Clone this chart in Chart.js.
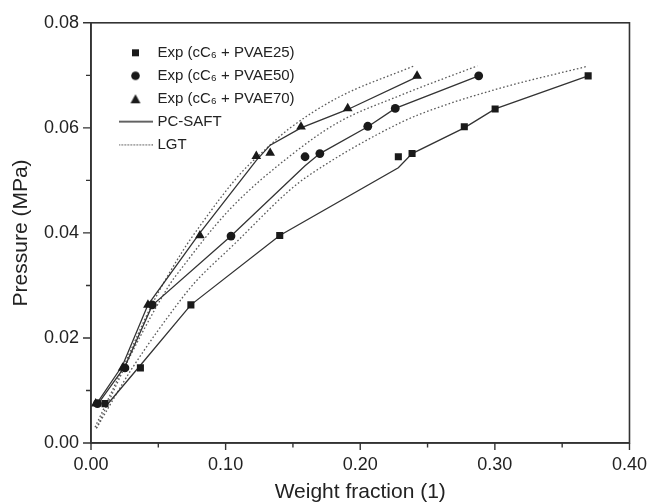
<!DOCTYPE html>
<html><head><meta charset="utf-8">
<script src="https://cdn.jsdelivr.net/npm/chart.js@4/dist/chart.umd.min.js"></script>
<style>html,body{margin:0;padding:0;background:#fff}#wrap{width:658px;height:502px}</style>
</head><body><div id="wrap"><canvas id="c" width="658" height="502"></canvas></div>
<script>
// ---- data ----
const xTickLabels = ['0.00','0.10','0.20','0.30','0.40'];
const yTickLabels = ['0.00','0.02','0.04','0.06','0.08'];

const expX25 = [0.0104,0.0367,0.0742,0.1402,0.2283,0.2385,0.2773,0.3002,0.3693];
const expY25 = [0.0075,0.0143,0.0263,0.0395,0.0545,0.0551,0.0602,0.0636,0.0699];
const expX50 = [0.0048,0.0252,0.0455,0.1040,0.1590,0.1700,0.2056,0.2260,0.2880];
const expY50 = [0.0075,0.0143,0.0263,0.0394,0.0545,0.0551,0.0603,0.0637,0.0699];
const expX70 = [0.0035,0.0235,0.0423,0.0809,0.1228,0.1331,0.1560,0.1907,0.2422];
const expY70 = [0.0075,0.0143,0.0263,0.0395,0.0546,0.0552,0.0602,0.0637,0.0699];

const pcX25 = [0.0104,0.0367,0.0742,0.1402,0.2283,0.2385,0.2773,0.3002,0.3693];
const pcY25 = [0.0068,0.0148,0.0263,0.0395,0.0524,0.0551,0.0600,0.0636,0.0699];
const pcX50 = [0.0048,0.0252,0.0455,0.1040,0.1590,0.1700,0.2056,0.2260,0.2880];
const pcY50 = [0.0073,0.0146,0.0262,0.0394,0.0528,0.0551,0.0602,0.0637,0.0699];
const pcX70 = [0.0035,0.0235,0.0423,0.0809,0.1228,0.1331,0.1560,0.1907,0.2422];
const pcY70 = [0.0072,0.0148,0.0263,0.0400,0.0538,0.0567,0.0600,0.0635,0.0697];

const lgtX25 = [0.004,0.030,0.068,0.078,0.107,0.147,0.161,0.230,0.257,0.306,0.3685];
const lgtY25 = [0.0028,0.0140,0.0277,0.0308,0.0380,0.0480,0.0508,0.0610,0.0638,0.0677,0.0717];
const lgtX50 = [0.004,0.030,0.058,0.0656,0.1024,0.1466,0.1834,0.230,0.287];
const lgtY50 = [0.0028,0.0170,0.0300,0.0327,0.0443,0.0544,0.0610,0.0662,0.0718];
const lgtX70 = [0.003,0.024,0.045,0.068,0.080,0.110,0.130,0.147,0.183,0.240];
const lgtY70 = [0.0030,0.0145,0.0262,0.0365,0.0410,0.0510,0.0560,0.0598,0.0657,0.0718];

const legendLabels = ['Exp (cC\u2086 + PVAE25)','Exp (cC\u2086 + PVAE50)','Exp (cC\u2086 + PVAE70)','PC-SAFT','LGT'];
// --------------------------------------

const pts = (xs, ys) => xs.map((x, i) => ({x, y: ys[i]}));
const INK = '#1a1a1a';
const LINE = '#333333';
const DOT = '#5a5a5a';
const FONT = 'Liberation Sans, Arial, sans-serif';

function mk(w, h, draw){ const c=document.createElement('canvas'); c.width=w; c.height=h; draw(c.getContext('2d')); return c; }
const legSquare = mk(9,9,g=>{g.fillStyle=INK; g.fillRect(1,1,7,7);});
const legCircle = mk(11,11,g=>{g.fillStyle=INK; g.beginPath(); g.arc(5.5,5.5,4.3,0,Math.PI*2); g.fill();});
const legTri = mk(12,11,g=>{g.fillStyle=INK; g.beginPath(); g.moveTo(6,1); g.lineTo(11,10); g.lineTo(1,10); g.closePath(); g.fill();});
const legSolid = mk(34,3,g=>{g.strokeStyle=LINE; g.lineWidth=1.3; g.beginPath(); g.moveTo(0,1.5); g.lineTo(34,1.5); g.stroke();});
const legDot = mk(34,3,g=>{g.fillStyle=DOT; for(let x=0;x<34;x+=3){g.fillRect(x,1,1.5,1.3);} });
const legendStyles = [legSquare, legCircle, legTri, legSolid, legDot];
const legendDatasetIdx = [6,7,8,0,3];

const lineDs = (data, dotted) => ({
  data, showLine: true, borderColor: dotted ? DOT : LINE, borderWidth: 1.3,
  borderDash: dotted ? [1.6, 2.2] : [], pointRadius: 0, pointHoverRadius: 0, fill: false,
  tension: dotted ? 0.3 : 0, cubicInterpolationMode: dotted ? 'monotone' : 'default', order: 2
});
const expDs = (data, style, r) => ({
  data, showLine: false, pointStyle: style, pointRadius: r, pointHoverRadius: r,
  backgroundColor: INK, borderColor: INK, borderWidth: 0, order: 1
});

function placeLegend(chart){
  const lg = chart.legend; if(!lg) return;
  const a = chart.chartArea;
  const w = lg.right - lg.left, h = lg.bottom - lg.top;
  lg.left = a.left + 22; lg.right = lg.left + w;
  lg.top = a.top + 14.5; lg.bottom = lg.top + h;
}
const framePlugin = {
  id: 'frame',
  afterLayout: placeLegend,
  beforeDraw: placeLegend,
  afterDraw(chart){
    const {ctx, chartArea: a, scales} = chart;
    ctx.save();
    ctx.strokeStyle = '#333'; ctx.lineWidth = 1.6;
    ctx.strokeRect(a.left, a.top, a.right - a.left, a.bottom - a.top);
    ctx.lineWidth = 1.4; ctx.beginPath();
    scales.x.ticks.forEach(t => {
      const px = scales.x.getPixelForValue(t.value);
      const major = t.label !== '';
      ctx.moveTo(px, a.bottom); ctx.lineTo(px, a.bottom + (major ? 7 : 4.5));
    });
    scales.y.ticks.forEach(t => {
      const py = scales.y.getPixelForValue(t.value);
      const major = t.label !== '';
      ctx.moveTo(a.left, py); ctx.lineTo(a.left - (major ? 8 : 5), py);
    });
    ctx.stroke();
    ctx.restore();
  }
};

new Chart(document.getElementById('c'), {
  type: 'scatter',
  data: { datasets: [
    lineDs(pts(pcX25, pcY25), false),
    lineDs(pts(pcX50, pcY50), false),
    lineDs(pts(pcX70, pcY70), false),
    lineDs(pts(lgtX25, lgtY25), true),
    lineDs(pts(lgtX50, lgtY50), true),
    lineDs(pts(lgtX70, lgtY70), true),
    expDs(pts(expX25, expY25), 'rect', 5),
    expDs(pts(expX50, expY50), 'circle', 4.4),
    expDs(pts(expX70, expY70), 'triangle', 5.6)
  ]},
  options: {
    responsive: false, animation: false, devicePixelRatio: 1,
    layout: { padding: { top: 19, right: 24, left: 0, bottom: 0 } },
    plugins: {
      tooltip: { enabled: false },
      legend: {
        position: 'chartArea', align: 'start',
        labels: {
          usePointStyle: true, pointStyleWidth: 29, boxHeight: 15, padding: 8,
          color: '#222', font: { family: FONT, size: 15 },
          generateLabels: () => legendLabels.map((text, i) => ({
            text, pointStyle: legendStyles[i], fillStyle: INK, strokeStyle: INK,
            lineWidth: 0, hidden: false, datasetIndex: legendDatasetIdx[i], fontColor: '#222'
          }))
        }
      }
    },
    scales: {
      x: {
        type: 'linear', min: 0, max: 0.4,
        afterFit: s => { s.height = 59; },
        grid: { display: true, drawOnChartArea: false, drawTicks: false },
        border: { display: true, color: '#333', width: 1.6 },
        ticks: {
          stepSize: 0.05, autoSkip: false, maxRotation: 0, padding: 11,
          color: '#222', font: { family: FONT, size: 18 },
          callback: v => { const i = Math.round(v * 100); return i % 10 === 0 ? xTickLabels[i / 10] : ''; }
        },
        title: { display: true, text: 'Weight fraction (1)', color: '#222', font: { family: FONT, size: 21 }, padding: { top: 0, bottom: -3 } }
      },
      y: {
        type: 'linear', min: 0, max: 0.08,
        afterFit: s => { s.width = 91; },
        grid: { display: true, drawOnChartArea: false, drawTicks: false },
        border: { display: true, color: '#333', width: 1.6 },
        ticks: {
          stepSize: 0.01, autoSkip: false, padding: 12,
          color: '#222', font: { family: FONT, size: 18 },
          callback: v => { const i = Math.round(v * 1000); return i % 20 === 0 ? yTickLabels[i / 20] : ''; }
        },
        title: { display: true, text: 'Pressure (MPa)', color: '#222', font: { family: FONT, size: 21 }, padding: { top: 9, bottom: 0 } }
      }
    }
  },
  plugins: [framePlugin]
});
</script></body></html>
